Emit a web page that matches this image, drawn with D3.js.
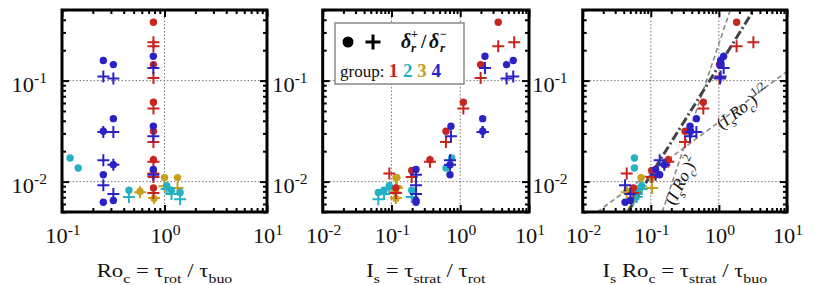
<!DOCTYPE html>
<html>
<head>
<meta charset="utf-8">
<script src="https://cdn.jsdelivr.net/npm/d3@7"></script>
<style>
  body { margin: 0; background: #fff; }
  svg text { font-family: "Liberation Serif", "DejaVu Serif", serif; fill: #111; }
</style>
</head>
<body>
<svg id="chart" width="830" height="285"></svg>
<script>
// ---- data: one entry per run ----
const runGroup   = [1,1,1,1,1,1,1,1,1, 4,4,4,4,4,4,4,4,4,4,4, 2,2,2,2,2,2, 3,3,3,3];
// Ro_c (left panel x)
const roC        = [0.78,0.78,0.78,0.78,0.78,0.78,0.78,0.78,0.78,
                    0.253,0.253,0.253,0.253,0.317,0.317,0.317,0.317,0.778,0.778,0.778,
                    0.12,0.144,0.45,1.05,1.17,1.42,
                    0.577,0.79,1.0,1.34];
// I_s (middle panel x)
const iS         = [3.57,6.1,1.98,1.11,0.62,0.363,0.197,0.116,0.093,
                    5.9,2.12,0.71,0.2275,4.72,2.12,0.71,0.2275,2.29,0.733,0.2275,
                    0.75,0.621,0.197,0.093,0.0778,0.0644,
                    0.112,0.116,0.116,0.12];
// I_s Ro_c (right panel x)
const isRoC      = [1.82,3.21,1.02,0.59,0.318,0.181,0.103,0.0555,0.0443,
                    1.06,0.385,0.135,0.0419,1.04,0.467,0.158,0.05,1.175,0.377,0.118,
                    0.0574,0.0574,0.062,0.0734,0.062,0.0555,
                    0.0443,0.0555,0.072,0.1043];
// delta_r^+ (circles) and delta_r^- (plus signs)
const deltaPlus  = [0.378,null,0.144,0.061,0.0315,0.0165,0.0129,0.00866,null,
                    0.158,0.0315,0.0117,0.00624,0.144,0.042,0.0147,0.00649,0.174,0.0353,0.0132,
                    0.0171,0.01365,0.0082,0.00913,0.0082,0.0078,
                    0.008,0.00679,0.01096,0.01096];
const deltaMinus = [0.219,0.2395,0.106,0.0528,0.0247,0.0157,0.0111,0.00773,0.012,
                    0.11,0.031,0.0163,0.0092,0.1047,0.031,0.0147,0.00755,0.133,0.0281,0.0117,
                    null,null,0.00705,0.00846,0.00755,0.0067,
                    0.00784,0.00689,0.009,0.00866];

const groupColors = {1: "#c8251f", 2: "#22b2c4", 3: "#c9a01c", 4: "#2b22c6"};
const drawOrder = [3, 2, 1, 4];

// scaling lines in the right panel, given by two end points
const lineSquare = [[0.147, 0.005], [1.47, 0.5]];
const lineRoot   = [[0.0164, 0.005], [10, 0.123]];
const lineFit    = [[0.0457, 0.005], [3.25, 0.5]];

const yDomain = [0.005, 0.5];
const yTickVals = [0.01, 0.1];

const panels = [
  { x: roC,   left: 62,    right: 267, domain: [0.1, 10],  xTicks: [0.1, 1, 10],
    grid: [1],
    title: [{t:"Ro"},{t:"c",s:"sub"},{t:" = \u03c4"},{t:"rot",s:"sub"},{t:" / \u03c4"},{t:"buo",s:"sub"}] },
  { x: iS,    left: 322.7, right: 529, domain: [0.01, 10], xTicks: [0.01, 0.1, 1, 10],
    grid: [0.1, 1],
    title: [{t:"I"},{t:"s",s:"sub"},{t:" = \u03c4"},{t:"strat",s:"sub"},{t:" / \u03c4"},{t:"rot",s:"sub"}] },
  { x: isRoC, left: 582.7, right: 787, domain: [0.01, 10], xTicks: [0.01, 0.1, 1, 10],
    grid: [0.1, 1],
    title: [{t:"I"},{t:"s",s:"sub"},{t:" Ro"},{t:"c",s:"sub"},{t:" = \u03c4"},{t:"strat",s:"sub"},{t:" / \u03c4"},{t:"buo",s:"sub"}] }
];

const plotTop = 10, plotBottom = 212;
const svg = d3.select("#chart");

function richText(sel, parts, size) {
  let shift = 0;
  parts.forEach(p => {
    const target = p.s === "sub" ? size * 0.32 : p.s === "sup" ? -size * 0.42 : 0;
    const ts = sel.append("tspan")
      .attr("dy", target - shift)
      .attr("font-size", p.s ? size * 0.7 : size)
      .text(p.t);
    if (p.i) ts.attr("font-style", "italic");
    shift = target;
  });
}

// text stretched horizontally, like the wide serif type of the figure
function wideText(parent, x, y, anchor, sx) {
  return parent.append("g")
    .attr("transform", `translate(${x},${y}) scale(${sx},1)`)
    .append("text").attr("text-anchor", anchor);
}

function expOf(v) { return Math.round(Math.log10(v)); }
function isDecade(v) { return Math.abs(Math.log10(v) - Math.round(Math.log10(v))) < 1e-6; }

function plusPath(cx, cy, a) {
  return `M${cx - a},${cy}H${cx + a}M${cx},${cy - a}V${cy + a}`;
}

panels.forEach((p, pi) => {
  const x = d3.scaleLog().domain(p.domain).range([p.left, p.right]);
  const y = d3.scaleLog().domain(yDomain).range([plotBottom, plotTop]);
  const g = svg.append("g");

  const clipId = "clip" + pi;
  svg.append("clipPath").attr("id", clipId)
    .append("rect").attr("x", p.left).attr("y", plotTop)
    .attr("width", p.right - p.left).attr("height", plotBottom - plotTop);

  // grid
  g.append("g").selectAll("line").data(p.grid).join("line")
    .attr("x1", d => x(d)).attr("x2", d => x(d))
    .attr("y1", plotTop).attr("y2", plotBottom)
    .attr("stroke", "#777").attr("stroke-width", 1).attr("stroke-dasharray", "1.5,2");
  g.append("g").selectAll("line").data(yTickVals).join("line")
    .attr("x1", p.left).attr("x2", p.right)
    .attr("y1", d => y(d)).attr("y2", d => y(d))
    .attr("stroke", "#777").attr("stroke-width", 1).attr("stroke-dasharray", "1.5,2");

  // scaling lines (right panel only)
  if (pi === 2) {
    const lg = g.append("g").attr("clip-path", `url(#${clipId})`);
    const line = d3.line().x(d => x(d[0])).y(d => y(d[1]));
    lg.append("path").attr("d", line(lineSquare)).attr("fill", "none")
      .attr("stroke", "#8a8a8a").attr("stroke-width", 1.6).attr("stroke-dasharray", "5,3");
    lg.append("path").attr("d", line(lineRoot)).attr("fill", "none")
      .attr("stroke", "#8a8a8a").attr("stroke-width", 1.6).attr("stroke-dasharray", "5,3");
    lg.append("path").attr("d", line(lineFit)).attr("fill", "none")
      .attr("stroke", "#444").attr("stroke-width", 3).attr("stroke-dasharray", "9,3,2,3");
  }

  // markers
  const runs = runGroup.map((grp, i) => ({ grp, x: p.x[i], dp: deltaPlus[i], dm: deltaMinus[i] }));
  drawOrder.forEach(grp => {
    const sub = runs.filter(r => r.grp === grp);
    g.append("g").selectAll("circle").data(sub.filter(r => r.dp !== null)).join("circle")
      .attr("cx", d => x(d.x)).attr("cy", d => y(d.dp)).attr("r", 3.7)
      .attr("fill", groupColors[grp]);
    g.append("g").selectAll("path").data(sub.filter(r => r.dm !== null)).join("path")
      .attr("d", d => plusPath(x(d.x), y(d.dm), 6))
      .attr("stroke", groupColors[grp]).attr("stroke-width", 2).attr("fill", "none");
  });

  // ticks, inward on all four sides
  const xAll = x.ticks().filter(v => v >= p.domain[0] && v <= p.domain[1]);
  const yAll = y.ticks();
  const xMaj = xAll.filter(isDecade), xMin = xAll.filter(v => !isDecade(v));
  const yMaj = yAll.filter(isDecade), yMin = yAll.filter(v => !isDecade(v));
  const ticks = [
    [d3.axisBottom, x, `translate(0,${plotBottom})`, xMaj, 7], [d3.axisBottom, x, `translate(0,${plotBottom})`, xMin, 4],
    [d3.axisTop, x, `translate(0,${plotTop})`, xMaj, 7],       [d3.axisTop, x, `translate(0,${plotTop})`, xMin, 4],
    [d3.axisLeft, y, `translate(${p.left},0)`, yMaj, 7],       [d3.axisLeft, y, `translate(${p.left},0)`, yMin, 4],
    [d3.axisRight, y, `translate(${p.right},0)`, yMaj, 7],     [d3.axisRight, y, `translate(${p.right},0)`, yMin, 4]
  ];
  ticks.forEach(([fn, sc, tr, vals, len]) => {
    g.append("g").attr("transform", tr)
      .call(fn(sc).tickValues(vals).tickSize(-len).tickFormat(""))
      .call(s => s.select(".domain").remove())
      .call(s => s.selectAll("line").attr("stroke", "#000").attr("stroke-width", 2));
  });

  // frame
  g.append("rect").attr("x", p.left).attr("y", plotTop)
    .attr("width", p.right - p.left).attr("height", plotBottom - plotTop)
    .attr("fill", "none").attr("stroke", "#000").attr("stroke-width", 3);

  // tick labels
  p.xTicks.forEach(v => {
    const t = wideText(g, x(v) + 1, 243, "middle", 1.12);
    richText(t, [{t: "10"}, {t: String(expOf(v)), s: "sup"}], 20);
  });
  yTickVals.forEach(v => {
    const t = wideText(g, p.left - 15, y(v) + 11, "end", 1.12);
    richText(t, [{t: "10"}, {t: String(expOf(v)), s: "sup"}], 20);
  });

  // axis title
  const tt = wideText(g, (p.left + p.right) / 2, 277, "middle", 1.2);
  richText(tt, p.title, 19);

  // line labels in right panel
  if (pi === 2) {
    const l1 = g.append("text")
      .attr("transform", `translate(${x(0.33)},${y(0.0097)}) rotate(-63)`)
      .attr("text-anchor", "middle").attr("dy", 5);
    richText(l1, [{t:"("},{t:"I",i:1},{t:"s",s:"sub",i:1},{t:"Ro",i:1},{t:"c",s:"sub",i:1},{t:")"},{t:"2",s:"sup"}], 17);
    const l2 = g.append("text")
      .attr("transform", `translate(${x(2.5)},${y(0.0495)}) rotate(-37)`)
      .attr("text-anchor", "middle").attr("dy", 5);
    richText(l2, [{t:"("},{t:"I",i:1},{t:"s",s:"sub",i:1},{t:"Ro",i:1},{t:"c",s:"sub",i:1},{t:")"},{t:"1/2",s:"sup"}], 17);
  }
});

// legend in middle panel
const lg = svg.append("g");
lg.append("rect").attr("x", 335).attr("y", 23).attr("width", 129).attr("height", 61)
  .attr("fill", "#fff").attr("stroke", "#888").attr("stroke-width", 1.5);
lg.append("circle").attr("cx", 348).attr("cy", 42).attr("r", 5.5).attr("fill", "#000");
lg.append("path").attr("d", plusPath(373, 42, 7.5)).attr("stroke", "#000").attr("stroke-width", 3);
const dl = lg.append("g").attr("font-weight", "bold").attr("font-style", "italic");
dl.append("text").attr("x", 401).attr("y", 48).attr("font-size", 20).text("\u03b4");
dl.append("text").attr("x", 411).attr("y", 38).attr("font-size", 12).attr("font-style", "normal").text("+");
dl.append("text").attr("x", 411).attr("y", 52).attr("font-size", 13).text("r");
dl.append("text").attr("x", 421).attr("y", 48).attr("font-size", 19).attr("font-style", "normal").text("/");
dl.append("text").attr("x", 429).attr("y", 48).attr("font-size", 20).text("\u03b4");
dl.append("text").attr("x", 440).attr("y", 38).attr("font-size", 12).attr("font-style", "normal").text("\u2212");
dl.append("text").attr("x", 440).attr("y", 52).attr("font-size", 13).text("r");
const gt = lg.append("text").attr("x", 340).attr("y", 77).attr("font-size", 17);
gt.append("tspan").text("group: ");
[1, 2, 3, 4].forEach(k => {
  gt.append("tspan").attr("font-weight", "bold").attr("fill", groupColors[k]).attr("font-size", 19)
    .text(k + (k < 4 ? " " : ""));
});
</script>
</body>
</html>
